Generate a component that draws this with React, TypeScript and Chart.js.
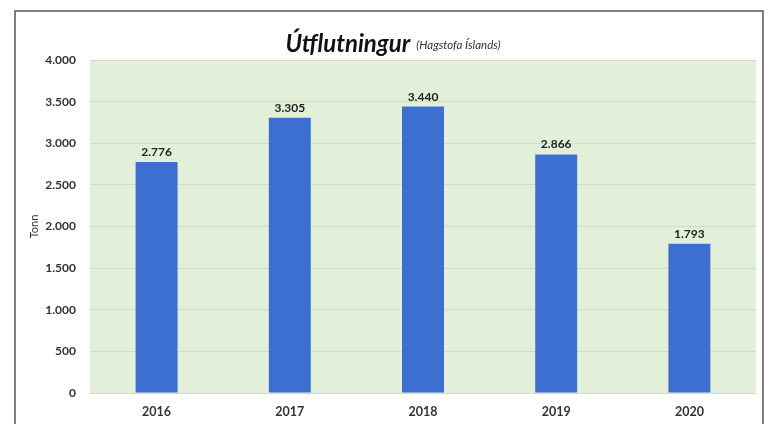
import React, { useEffect, useRef } from "react";
import { Chart, registerables } from "chart.js";

Chart.register(...registerables);

const categories = ["2016", "2017", "2018", "2019", "2020"];
const exportTonnes = [2776, 3305, 3440, 2866, 1793];
const yTickStep = 500;
const yMax = 4000;
const titleMain = "Útflutningur";
const titleSub = "(Hagstofa Íslands)";
const yAxisTitle = "Tonn";

const fmt = (v: number) => String(Math.round(v)).replace(/\B(?=(\d{3})+(?!\d))/g, ".");
const FONT = "Lato, 'Open Sans', sans-serif";

export default function App() {
  const ref = useRef<HTMLCanvasElement | null>(null);
  useEffect(() => {
    if (!ref.current) return;
    const framePlugin = {
      id: "frame",
      beforeDraw(chart: any) {
        const { ctx, chartArea } = chart;
        ctx.save();
        ctx.fillStyle = "#ffffff";
        ctx.fillRect(0, 0, chart.width, chart.height);
        ctx.fillStyle = "#e2f0d9";
        ctx.fillRect(chartArea.left, chartArea.top, chartArea.right - chartArea.left, chartArea.bottom - chartArea.top);
        ctx.restore();
      },
      afterDraw(chart: any) {
        const { ctx } = chart;
        ctx.save();
        ctx.strokeStyle = "#555555";
        ctx.lineWidth = 1.5;
        ctx.strokeRect(15, 11, 748, 440);
        // title
        ctx.fillStyle = "#111111";
        ctx.textBaseline = "alphabetic";
        ctx.font = `italic bold 24px ${FONT}`;
        const w1 = ctx.measureText(titleMain).width;
        ctx.font = `italic 11.5px ${FONT}`;
        const w2 = ctx.measureText(titleSub).width;
        const total = w1 + 6 + w2;
        const x0 = 393 - total / 2;
        ctx.font = `italic bold 24px ${FONT}`;
        ctx.textAlign = "left";
        ctx.fillText(titleMain, x0, 52);
        ctx.font = `italic 11.5px ${FONT}`;
        ctx.fillStyle = "#333333";
        ctx.fillText(titleSub, x0 + w1 + 6, 49);
        // data labels
        const meta = chart.getDatasetMeta(0);
        ctx.font = `bold 12px ${FONT}`;
        ctx.fillStyle = "#222222";
        ctx.textAlign = "center";
        ctx.textBaseline = "alphabetic";
        meta.data.forEach((bar: any, i: number) => {
          ctx.fillText(fmt(exportTonnes[i]), bar.x, bar.y - 6);
        });
        ctx.restore();
      },
    };
    const chart = new Chart(ref.current, {
      type: "bar",
      data: {
        labels: categories,
        datasets: [
          {
            data: exportTonnes,
            backgroundColor: "#3d6fd0",
            borderWidth: 0,
            barPercentage: 0.315,
            categoryPercentage: 1,
          },
        ],
      },
      options: {
        responsive: false,
        animation: false,
        layout: { padding: { left: 20, right: 17, top: 60, bottom: 6 } },
        plugins: { legend: { display: false }, tooltip: { enabled: false }, title: { display: false } },
        scales: {
          x: {
            grid: { display: false },
            border: { display: false },
            ticks: { font: { family: FONT, size: 12.5, weight: "bold" }, color: "#333333", padding: 3 },
            afterFit: (s: any) => { s.height = 25; },
          },
          y: {
            min: 0,
            max: yMax,
            ticks: {
              stepSize: yTickStep,
              font: { family: FONT, size: 12, weight: "bold" },
              color: "#333333",
              padding: 14,
              callback: (v: any) => fmt(Number(v)),
            },
            grid: { color: "#cfdcc8", drawTicks: false, lineWidth: 1 },
            border: { display: false },
            title: { display: true, text: yAxisTitle, font: { family: FONT, size: 11 }, color: "#333333", padding: { top: 8, bottom: 0 } },
            afterFit: (s: any) => { s.width = 70; },
          },
        },
      },
      plugins: [framePlugin],
    });
    return () => chart.destroy();
  }, []);
  return (
    <div style={{ position: "fixed", left: 0, top: 0, width: 773, height: 424 }}>
      <canvas ref={ref} width={773} height={424} style={{ display: "block" }} />
    </div>
  );
}
